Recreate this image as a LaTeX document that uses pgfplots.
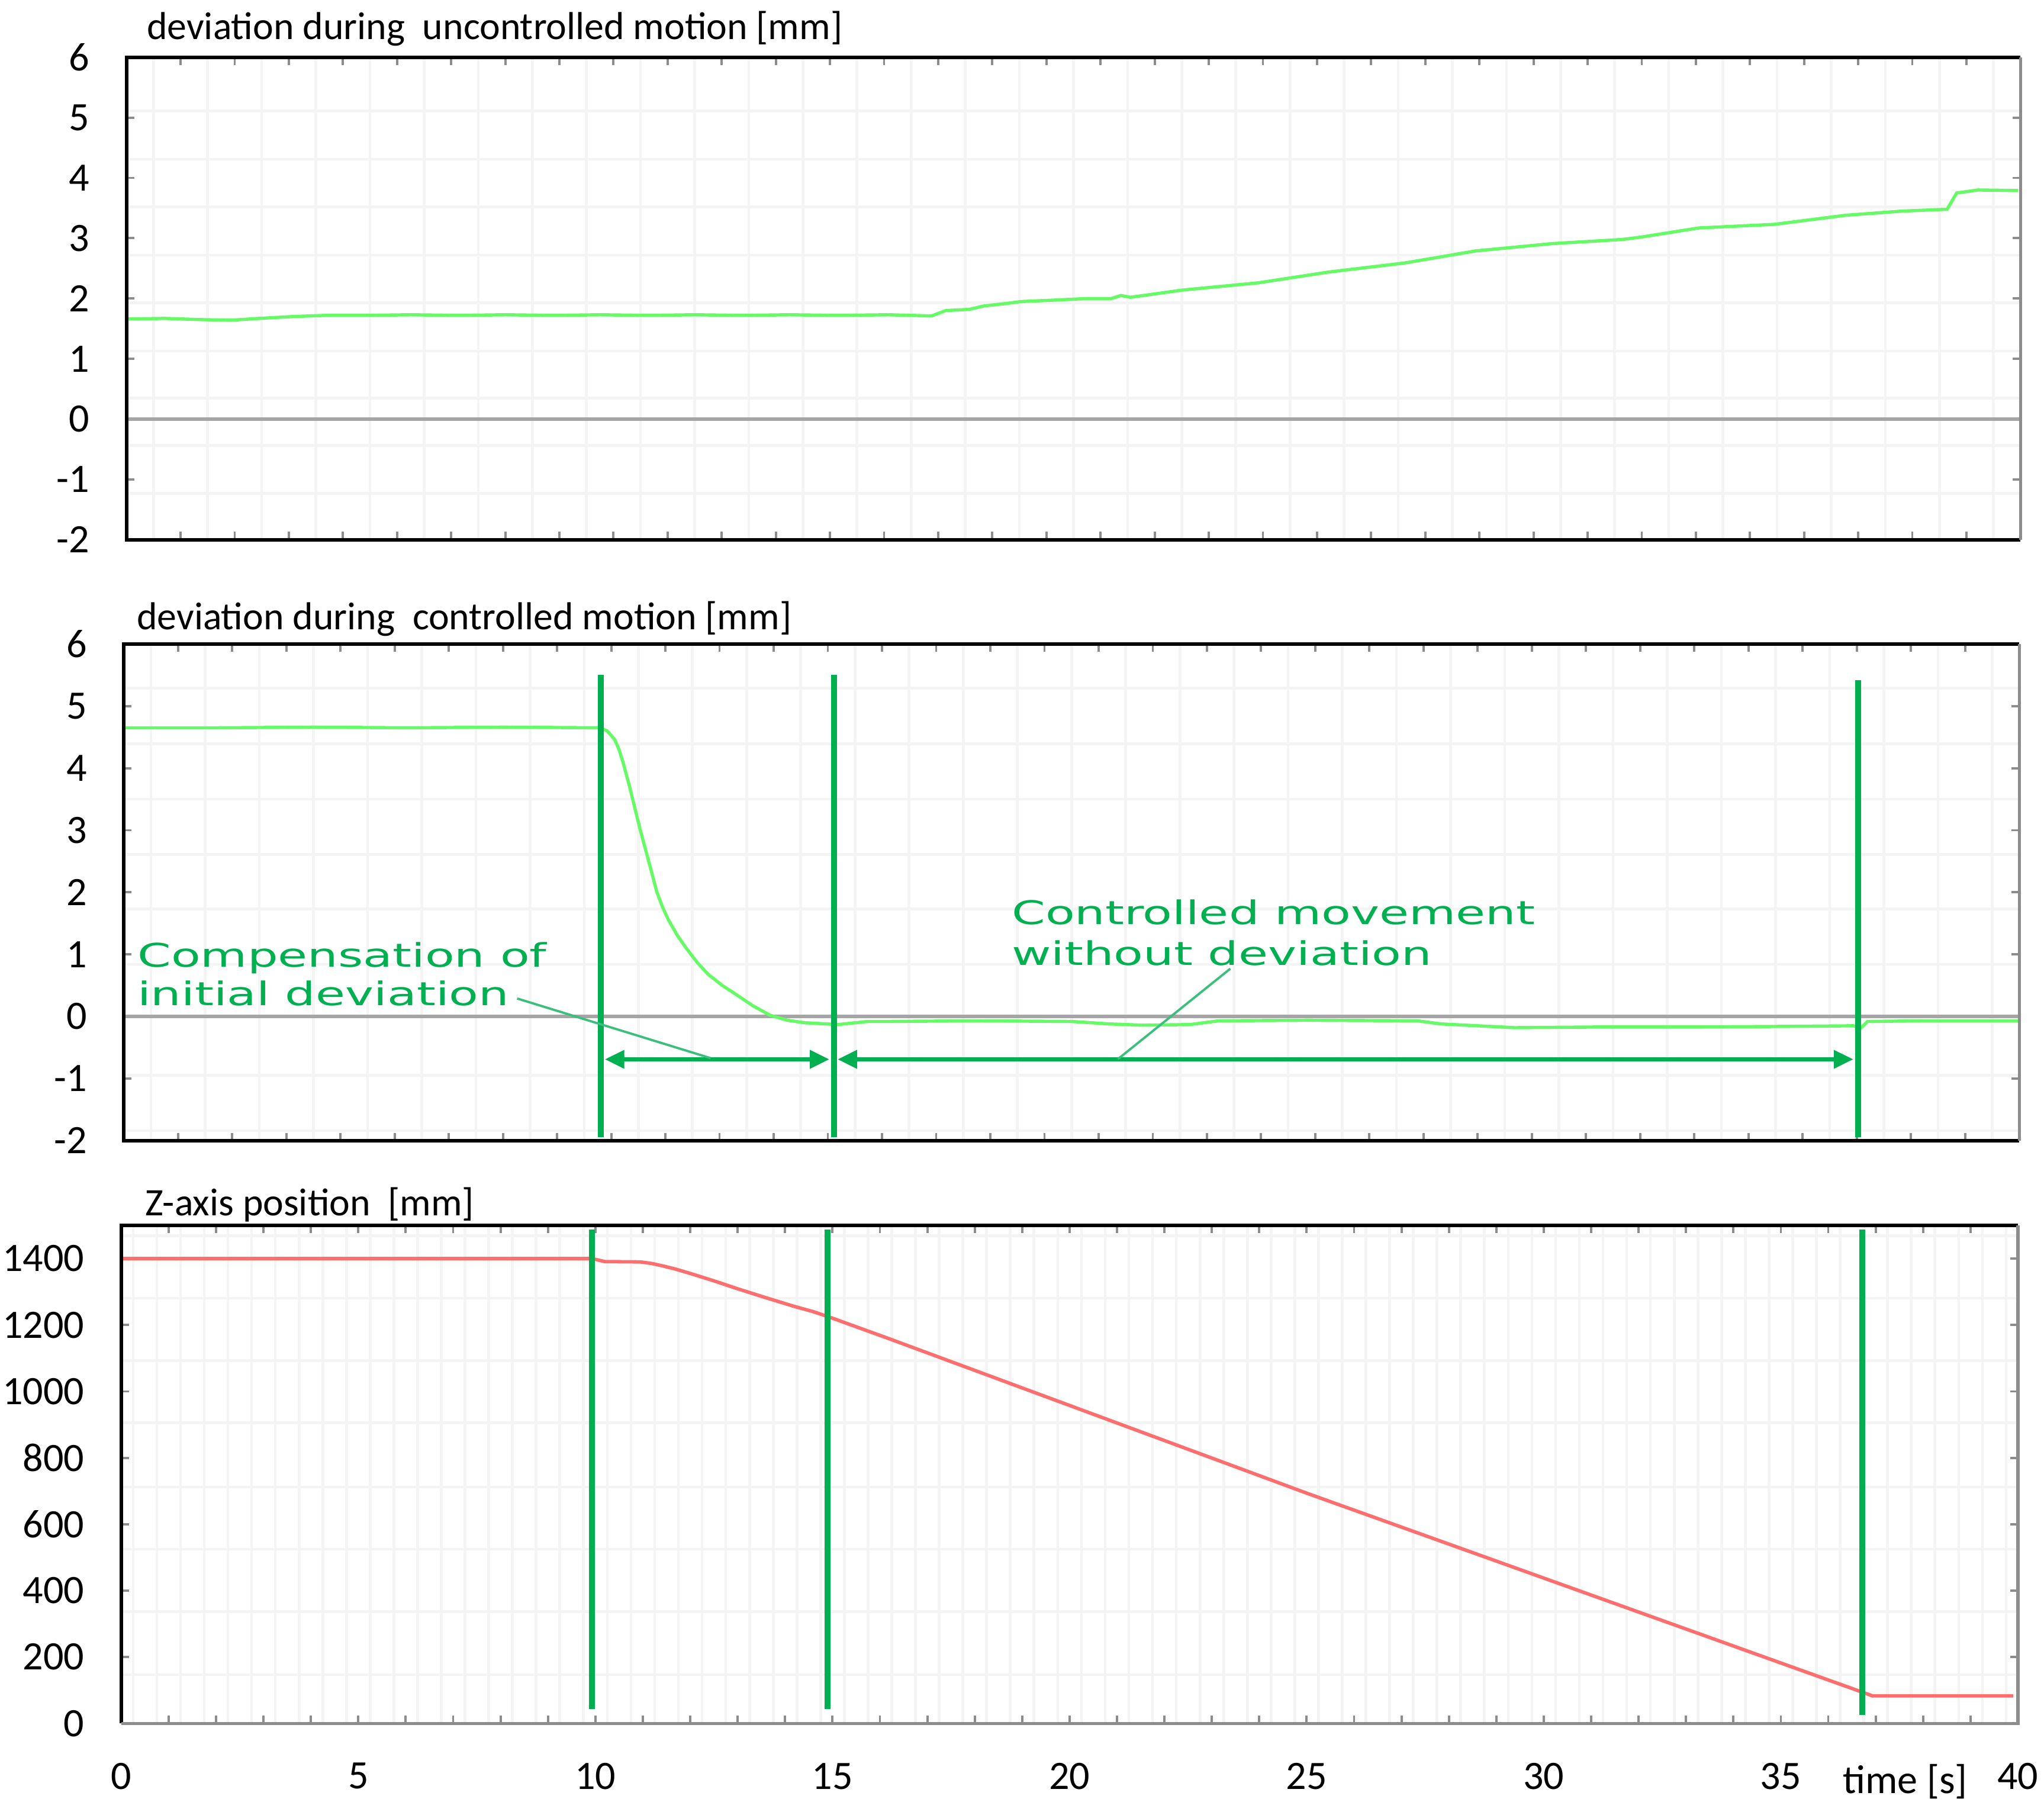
\documentclass[border=0pt]{standalone}
\usepackage{fontspec}
\setmainfont{Carlito}
\newfontfamily\annofont{DejaVu Sans}
\usepackage{graphicx}
\usepackage{pgfplots}
\pgfplotsset{compat=1.18}
\usetikzlibrary{arrows.meta}

\definecolor{devgreen}{RGB}{102,250,102}
\definecolor{zred}{RGB}{255,110,110}
\definecolor{annogreen}{RGB}{0,176,80}
\definecolor{leadgreen}{RGB}{60,190,125}
\definecolor{zerogray}{RGB}{165,165,165}
\definecolor{gridgray}{RGB}{244,244,244}
\definecolor{framegray}{RGB}{140,140,140}

\newcommand{\lbl}{\fontsize{8.5}{10}\selectfont}
\newcommand{\tlbl}{\fontsize{8.8}{10}\selectfont}
\newcommand{\anno}[1]{\scalebox{1.48}[1]{\annofont\fontsize{7.1}{8.5}\selectfont #1}}

\pgfplotsset{
  panel/.style={
    scale only axis, clip=false,
    anchor=south west,
    xmin=0, xmax=40,
    axis line style={draw=none},
    major tick length=0.6mm, minor tick length=0pt,
    tick style={draw=framegray, line width=0.5pt},
    grid=minor,
    minor grid style={draw=gridgray, line width=0.6pt},
    tick label style={font=\tlbl},
    /pgf/number format/assume math mode=true,
    /pgf/number format/1000 sep={},
    yticklabel style={xshift=-1.6mm},
  },
  frame/.style={
    after end axis/.code={
      \draw[black, line width=0.8pt] (rel axis cs:1,1) -- (rel axis cs:0,1) -- (rel axis cs:0,0) -- (rel axis cs:1,0);
      \draw[framegray, line width=0.6pt] (rel axis cs:1,0) -- (rel axis cs:1,1);
    }
  },
  framelow/.style={
    after end axis/.code={
      \draw[black, line width=0.8pt] (rel axis cs:1,1) -- (rel axis cs:0,1) -- (rel axis cs:0,0);
      \draw[framegray, line width=0.7pt] (rel axis cs:0,0) -- (rel axis cs:1,0) -- (rel axis cs:1,1);
    }
  },
}

\begin{document}
\begin{tikzpicture}
\path[use as bounding box] (0,0) rectangle (15.68,13.92);

% top: deviation during uncontrolled motion
\begin{axis}[panel, frame,
  at={(0.97cm,9.78cm)}, width=14.53cm, height=3.70cm,
  ymin=-2, ymax=6, ytick={-2,...,6},
  xtick distance=1.142857, xticklabels={}, minor x tick num=1,
  minor ytick={5.11,4.31,3.52,2.72,1.93,1.13,0.35,-0.44,-1.23},
]
\draw[zerogray, line width=0.8pt] (axis cs:0,0) -- (axis cs:40,0);
\addplot[devgreen, line width=0.7pt] coordinates {
(0,1.66)(0.8,1.67)(1.6,1.65)(2.2,1.64)(2.8,1.67)(3.5,1.70)(4.2,1.72)(5,1.72)
(6,1.73)(7,1.72)(8,1.73)(9,1.72)(10,1.73)(11,1.72)(12,1.73)(13,1.72)(14,1.73)
(15,1.72)(16.1,1.73)(16.6,1.72)(17.0,1.71)(17.3,1.80)(17.8,1.82)(18.1,1.875)
(18.6,1.92)(18.9,1.95)(19.5,1.97)(20.3,2.0)(20.8,2.0)(21.0,2.05)(21.2,2.02)
(22.3,2.14)(23.9,2.26)(25.4,2.44)(27.0,2.59)(28.5,2.79)(30.1,2.91)(31.6,2.98)
(32.0,3.02)(33.2,3.17)(34.8,3.23)(36.3,3.38)(37.5,3.45)(38.45,3.48)(38.65,3.75)
(39.1,3.80)(39.95,3.79)};
\end{axis}

% middle: deviation during controlled motion
\begin{axis}[panel, frame,
  at={(0.95cm,5.17cm)}, width=14.54cm, height=3.81cm,
  ymin=-2, ymax=6, ytick={-2,...,6},
  xtick distance=1.142857, xticklabels={}, minor x tick num=1,
  minor ytick={5.29,4.39,3.50,2.61,1.73,0.84,-0.95,-1.84},
]
\draw[zerogray, line width=0.8pt] (axis cs:0,0) -- (axis cs:40,0);
\addplot[devgreen, line width=0.7pt] coordinates {
(0,4.65)(2,4.65)(4,4.66)(6,4.65)(8,4.66)(10.05,4.65)(10.2,4.60)(10.36,4.46)
(10.45,4.30)(10.54,4.08)(10.66,3.74)(10.78,3.37)(10.9,3.0)(11.02,2.66)
(11.14,2.32)(11.25,2.0)(11.37,1.76)(11.49,1.56)(11.67,1.32)(11.85,1.12)
(12.09,0.88)(12.33,0.68)(12.63,0.50)(12.93,0.35)(13.28,0.17)(13.64,0.02)
(14.0,-0.06)(14.36,-0.1)(15.07,-0.13)(15.7,-0.08)(16.1,-0.08)
(18,-0.07)(20,-0.08)(20.8,-0.12)(21.5,-0.14)(22.5,-0.13)(23.1,-0.07)(25,-0.06)
(27.3,-0.07)(27.8,-0.12)(29.35,-0.18)(31,-0.17)(33,-0.17)(35,-0.16)(36.5,-0.15)
(36.65,-0.19)(36.8,-0.08)(38,-0.07)(40,-0.07)};
\draw[annogreen, line width=1.3pt] (axis cs:10.07,-1.94) -- (axis cs:10.07,5.50);
\draw[annogreen, line width=1.3pt] (axis cs:14.99,-1.94) -- (axis cs:14.99,5.50);
\draw[annogreen, line width=1.3pt] (axis cs:36.6,-1.94) -- (axis cs:36.6,5.42);
\draw[annogreen, line width=1pt, {Triangle[length=1.5mm,width=1.35mm]}-{Triangle[length=1.5mm,width=1.35mm]}]
  (axis cs:10.15,-0.69) -- (axis cs:14.89,-0.69);
\draw[annogreen, line width=1pt, {Triangle[length=1.5mm,width=1.35mm]}-{Triangle[length=1.5mm,width=1.35mm]}]
  (axis cs:15.06,-0.69) -- (axis cs:36.5,-0.69);
\draw[leadgreen, line width=0.5pt] (axis cs:8.3,0.29) -- (axis cs:12.38,-0.67);
\draw[leadgreen, line width=0.5pt] (axis cs:23.35,0.77) -- (axis cs:20.98,-0.685);
\node[anchor=base west, inner sep=0, text=annogreen] at (axis cs:0.27,0.80) {\anno{Compensation of}};
\node[anchor=base west, inner sep=0, text=annogreen] at (axis cs:0.27,0.18) {\anno{initial deviation}};
\node[anchor=base west, inner sep=0, text=annogreen] at (axis cs:18.72,1.48) {\anno{Controlled movement}};
\node[anchor=base west, inner sep=0, text=annogreen] at (axis cs:18.72,0.83) {\anno{without deviation}};
\end{axis}

% bottom: Z-axis position
\begin{axis}[panel, framelow,
  at={(0.93cm,0.70cm)}, width=14.55cm, height=3.82cm,
  ymin=0, ymax=1500, ytick={0,200,...,1400},
  xtick={0,...,40},
  xticklabels={0,,,,,5,,,,,10,,,,,15,,,,,20,,,,,25,,,,,30,,,,,35,,,,,40},
  xticklabel style={yshift=-1.8mm},
  minor xtick={0.25,0.75,...,39.75},
  minor ytick={147,337,525,712,905,1093,1281,1469},
]
\addplot[zred, line width=0.75pt] coordinates {
(0,1400)(9.93,1400)(10.2,1391)(10.95,1390)(11.2,1385)(11.42,1378)(11.7,1368)
(12.03,1354)(12.5,1333)(12.98,1310)(13.6,1282)(14.17,1257)(14.6,1240)(15.0,1220.5)
(16.17,1160)(25.03,692)(36.7,95)(36.93,83)(39.9,83)};
\draw[annogreen, line width=1.3pt] (axis cs:9.93,43) -- (axis cs:9.93,1488);
\draw[annogreen, line width=1.3pt] (axis cs:14.89,43) -- (axis cs:14.89,1488);
\draw[annogreen, line width=1.3pt] (axis cs:36.72,25) -- (axis cs:36.72,1488);
\end{axis}

\node[anchor=base west, inner sep=0, font=\lbl] at (1.12,13.616) {deviation during\ \ uncontrolled motion [mm]};
\node[anchor=base west, inner sep=0, font=\lbl] at (1.043,9.09) {deviation during\ \ controlled motion [mm]};
\node[anchor=base west, inner sep=0, font=\lbl] at (1.108,4.595) {Z-axis position\ \ [mm]};
\node[anchor=base west, inner sep=0, font=\tlbl] at (14.131,0.164) {time [s]};
\end{tikzpicture}
\end{document}
